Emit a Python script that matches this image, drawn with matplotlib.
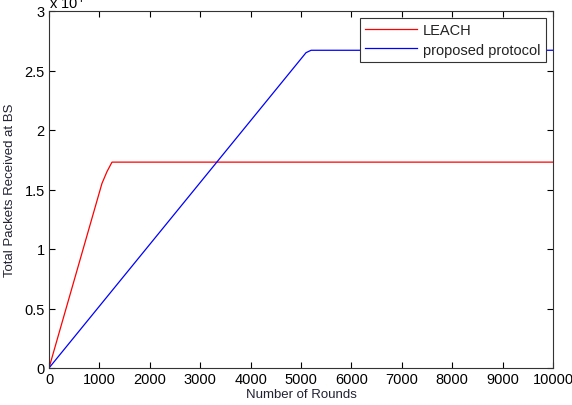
import matplotlib
import numpy as np

matplotlib.use("Agg")

import matplotlib.pyplot as plt  # noqa: E402
from matplotlib.ticker import FuncFormatter  # noqa: E402


# LEACH: total packets received at BS vs rounds
leach_rounds = [0, 1050, 1150, 1250, 10000]
leach_packets = [0, 15500, 16500, 17300, 17300]

# proposed protocol
proposed_rounds = [0, 5100, 5200, 10000]
proposed_packets = [0, 26500, 26700, 26700]

x_ticks = [0, 1000, 2000, 3000, 4000, 5000, 6000, 7000, 8000, 9000, 10000]
y_ticks = [0, 5000, 10000, 15000, 20000, 25000, 30000]

plt.rcParams["font.family"] = ["Liberation Sans", "DejaVu Sans"]

fig = plt.figure(figsize=(5.72, 4.06), dpi=100)
ax = fig.add_axes([49 / 572, 37 / 406, 504 / 572, 357 / 406])

ax.plot(leach_rounds, leach_packets, color="#ff0000", lw=0.9, label="LEACH")
ax.plot(proposed_rounds, proposed_packets, color="#0000ff", lw=0.9,
        label="proposed protocol")

ax.set_xlim(0, 10000)
ax.set_ylim(0, 30000)
ax.set_xticks(x_ticks)
ax.set_yticks(y_ticks)
ax.xaxis.set_major_formatter(FuncFormatter(lambda v, p: f"{v:g}"))
ax.yaxis.set_major_formatter(FuncFormatter(lambda v, p: f"{v / 1e4:g}"))
ax.tick_params(direction="in", top=True, right=True, labelsize=10.5,
               length=4, width=0.8, colors="#000000", pad=3)
for spine in ax.spines.values():
    spine.set_color("#333333")
    spine.set_linewidth(0.8)

ax.set_xlabel("Number of Rounds", fontsize=9.5, color="#222233", labelpad=1)
ax.set_ylabel("Total Packets Received at BS", fontsize=9.5, color="#222233",
              labelpad=6)
ax.text(0.0, 1.0, "x 10$^4$", transform=ax.transAxes, fontsize=10.5,
        ha="left", va="bottom")

leg = ax.legend(loc="upper right", fontsize=10.5, fancybox=False,
                borderaxespad=0.5, handlelength=3.6, framealpha=1,
                borderpad=0.35, labelspacing=0.35, handletextpad=0.4)
leg.get_frame().set_edgecolor("#333333")
leg.get_frame().set_linewidth(0.8)
for txt in leg.get_texts():
    txt.set_color("#222222")

fig.savefig("out.png", dpi=100)
